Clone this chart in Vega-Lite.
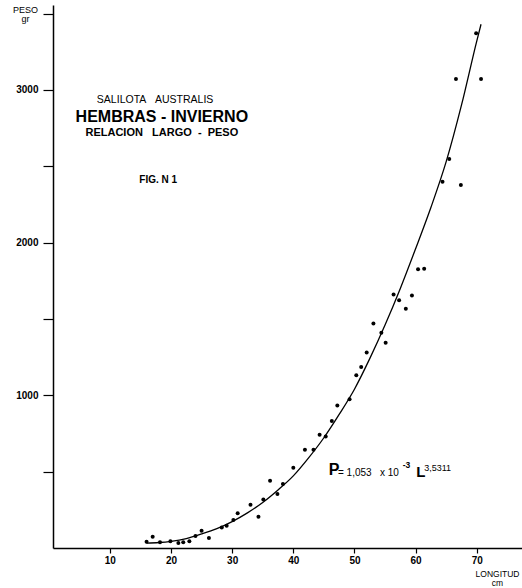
{
  "$schema": "https://vega.github.io/schema/vega-lite/v6.json",
  "width": 469,
  "height": 543,
  "autosize": {"type": "none"},
  "padding": {"left": 53, "top": 5, "right": 0, "bottom": 40},
  "background": "white",
  "config": {
    "view": {"stroke": null},
    "font": "Liberation Sans",
    "axis": {
      "grid": false,
      "domainColor": "black",
      "domainWidth": 1.5,
      "tickColor": "black",
      "tickWidth": 1.2,
      "labelColor": "black",
      "titleColor": "black",
      "labelFont": "Liberation Sans",
      "titleFont": "Liberation Sans"
    }
  },
  "datasets": {
    "puntos": [
      {"L": 16.0, "P": 41}, {"L": 17.0, "P": 74}, {"L": 18.2, "P": 37}, {"L": 19.9, "P": 44},
      {"L": 21.2, "P": 33}, {"L": 22.0, "P": 37}, {"L": 23.0, "P": 44}, {"L": 24.0, "P": 78},
      {"L": 25.0, "P": 113}, {"L": 26.2, "P": 65}, {"L": 28.3, "P": 135}, {"L": 29.1, "P": 146},
      {"L": 30.2, "P": 183}, {"L": 30.9, "P": 227}, {"L": 33.0, "P": 283}, {"L": 34.3, "P": 205},
      {"L": 35.1, "P": 318}, {"L": 36.2, "P": 441}, {"L": 37.4, "P": 354}, {"L": 38.3, "P": 419},
      {"L": 40.0, "P": 526}, {"L": 41.9, "P": 643}, {"L": 43.3, "P": 643}, {"L": 44.3, "P": 741},
      {"L": 45.3, "P": 730}, {"L": 46.3, "P": 832}, {"L": 47.2, "P": 933}, {"L": 49.2, "P": 974},
      {"L": 50.3, "P": 1131}, {"L": 51.1, "P": 1185}, {"L": 52.0, "P": 1281}, {"L": 53.1, "P": 1470},
      {"L": 54.4, "P": 1410}, {"L": 55.1, "P": 1344}, {"L": 56.4, "P": 1660}, {"L": 57.3, "P": 1623},
      {"L": 58.4, "P": 1567}, {"L": 59.4, "P": 1654}, {"L": 60.4, "P": 1826}, {"L": 61.4, "P": 1828},
      {"L": 64.4, "P": 2399}, {"L": 65.5, "P": 2547}, {"L": 66.6, "P": 3072}, {"L": 67.4, "P": 2377},
      {"L": 69.9, "P": 3371}, {"L": 70.7, "P": 3072}
    ],
    "curva": [
      {"L": 16.0, "P": 32}, {"L": 18.0, "P": 36}, {"L": 20.0, "P": 44}, {"L": 22.5, "P": 62},
      {"L": 25.0, "P": 92}, {"L": 27.5, "P": 127}, {"L": 30.0, "P": 173}, {"L": 32.5, "P": 230},
      {"L": 35.0, "P": 298}, {"L": 37.5, "P": 380}, {"L": 40.0, "P": 472}, {"L": 42.5, "P": 590},
      {"L": 45.0, "P": 722}, {"L": 47.5, "P": 875}, {"L": 50.0, "P": 1040}, {"L": 52.5, "P": 1240},
      {"L": 55.0, "P": 1460}, {"L": 57.5, "P": 1700}, {"L": 60.0, "P": 1960}, {"L": 62.5, "P": 2230},
      {"L": 65.0, "P": 2530}, {"L": 67.5, "P": 2900}, {"L": 70.0, "P": 3320}, {"L": 70.7, "P": 3430}
    ]
  },
  "layer": [
    {
      "data": {"name": "curva"},
      "mark": {"type": "line", "color": "black", "strokeWidth": 1.3, "interpolate": "monotone"},
      "encoding": {
        "x": {
          "field": "L", "type": "quantitative",
          "scale": {"domain": [0.7, 77.4], "nice": false, "zero": false},
          "axis": {
            "values": [10, 20, 30, 40, 50, 60, 70],
            "tickSize": 5, "labelPadding": 2, "labelFontSize": 10, "labelFontWeight": "bold",
            "title": ["LONGITUD", "cm"], "titleX": 444, "titleY": 21, "titleBaseline": "top",
            "titleAlign": "center", "titleFontSize": 8.5, "titleFontWeight": "normal", "titleLineHeight": 9
          }
        },
        "y": {
          "field": "P", "type": "quantitative",
          "scale": {"domain": [0, 3556], "nice": false, "zero": true},
          "axis": {
            "values": [500, 1000, 1500, 2000, 2500, 3000, 3500],
            "format": "d",
            "labelExpr": "datum.value % 1000 === 0 ? datum.label : ''",
            "tickSize": 10, "labelPadding": 5, "labelFontSize": 10, "labelFontWeight": "bold",
            "title": ["PESO", "gr"], "titleAngle": 0, "titleX": -28, "titleY": 0,
            "titleBaseline": "top", "titleAlign": "center", "titleFontSize": 9,
            "titleFontWeight": "normal", "titleLineHeight": 9
          }
        }
      }
    },
    {
      "data": {"name": "puntos"},
      "mark": {"type": "point", "filled": true, "color": "black", "size": 16, "opacity": 1},
      "encoding": {
        "x": {"field": "L", "type": "quantitative"},
        "y": {"field": "P", "type": "quantitative"}
      }
    },
    {
      "data": {"values": [{}]},
      "mark": {"type": "text", "text": "SALILOTA\u00a0\u00a0\u00a0AUSTRALIS", "fontSize": 10.5, "fontWeight": "normal", "align": "center", "baseline": "middle", "color": "black"},
      "encoding": {"x": {"datum": 17.4}, "y": {"datum": 2935}}
    },
    {
      "data": {"values": [{}]},
      "mark": {"type": "text", "text": "HEMBRAS - INVIERNO", "fontSize": 16, "fontWeight": "bold", "align": "center", "baseline": "middle", "color": "black"},
      "encoding": {"x": {"datum": 18.5}, "y": {"datum": 2824}}
    },
    {
      "data": {"values": [{}]},
      "mark": {"type": "text", "text": "RELACION\u00a0\u00a0\u00a0LARGO\u00a0\u00a0-\u00a0\u00a0PESO", "fontSize": 11, "fontWeight": "bold", "align": "center", "baseline": "middle", "color": "black"},
      "encoding": {"x": {"datum": 18.5}, "y": {"datum": 2719}}
    },
    {
      "data": {"values": [{}]},
      "mark": {"type": "text", "text": "FIG. N 1", "fontSize": 10, "fontWeight": "bold", "align": "center", "baseline": "middle", "color": "black"},
      "encoding": {"x": {"datum": 17.9}, "y": {"datum": 2412}}
    },
    {
      "data": {"values": [{}]},
      "mark": {"type": "text", "text": "P", "fontSize": 16, "fontWeight": "bold", "align": "left", "baseline": "alphabetic", "color": "black"},
      "encoding": {"x": {"datum": 45.8}, "y": {"datum": 477}}
    },
    {
      "data": {"values": [{}]},
      "mark": {"type": "text", "text": "= 1,053\u00a0\u00a0\u00a0x 10", "fontSize": 10, "fontWeight": "normal", "align": "left", "baseline": "alphabetic", "color": "black"},
      "encoding": {"x": {"datum": 47.3}, "y": {"datum": 471}}
    },
    {
      "data": {"values": [{}]},
      "mark": {"type": "text", "text": "-3", "fontSize": 8.5, "fontWeight": "bold", "align": "left", "baseline": "alphabetic", "color": "black"},
      "encoding": {"x": {"datum": 57.9}, "y": {"datum": 523}}
    },
    {
      "data": {"values": [{}]},
      "mark": {"type": "text", "text": "L", "fontSize": 15, "fontWeight": "bold", "align": "left", "baseline": "alphabetic", "color": "black"},
      "encoding": {"x": {"datum": 60.1}, "y": {"datum": 464}}
    },
    {
      "data": {"values": [{}]},
      "mark": {"type": "text", "text": "3,5311", "fontSize": 9, "fontWeight": "normal", "align": "left", "baseline": "alphabetic", "color": "black"},
      "encoding": {"x": {"datum": 61.4}, "y": {"datum": 506}}
    }
  ]
}
